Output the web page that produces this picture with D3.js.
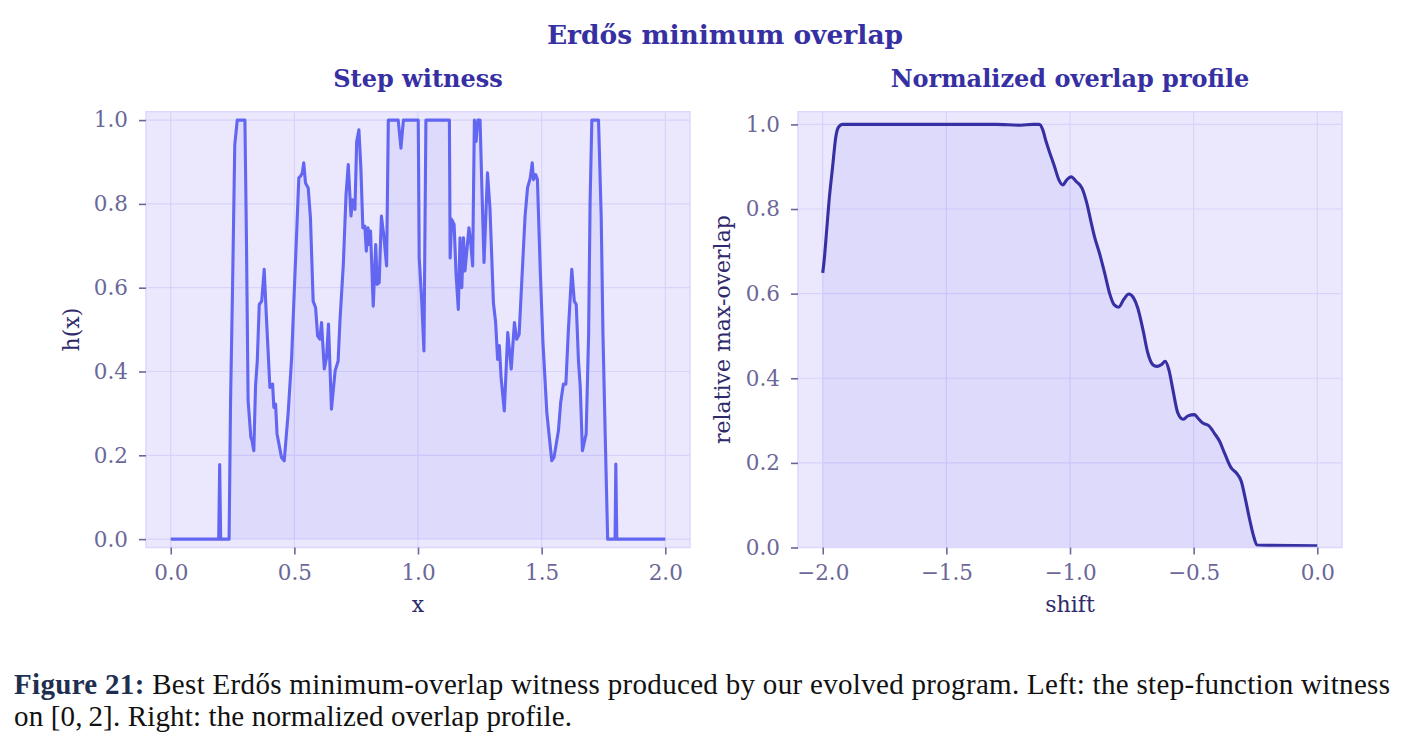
<!DOCTYPE html>
<html>
<head>
<meta charset="utf-8">
<script src="https://cdn.jsdelivr.net/npm/d3@7"></script>
<style>
  body { margin: 0; background: #fff; }
  svg { display: block; }
</style>
</head>
<body>
<div id="chart"></div>
<script>
// step witness h(x) on [0, 2]
const stepX = [0, 0.185, 0.194, 0.198, 0.202, 0.236, 0.242, 0.25, 0.259, 0.269,
  0.3, 0.306, 0.313, 0.324, 0.329, 0.336, 0.343, 0.35, 0.358, 0.368,
  0.378, 0.387, 0.401, 0.412, 0.417, 0.424, 0.43, 0.448, 0.459, 0.475,
  0.489, 0.498, 0.509, 0.518, 0.525, 0.532, 0.538, 0.545, 0.556, 0.565,
  0.576, 0.586, 0.594, 0.603, 0.61, 0.621, 0.63, 0.638, 0.65, 0.665,
  0.677, 0.684, 0.698, 0.709, 0.718, 0.729, 0.735, 0.745, 0.752, 0.761,
  0.769, 0.777, 0.785, 0.791, 0.798, 0.803, 0.808, 0.819, 0.829, 0.835,
  0.843, 0.852, 0.862, 0.873, 0.88, 0.92, 0.931, 0.941, 1.001, 1.005,
  1.015, 1.024, 1.032, 1.127, 1.13, 1.136, 1.146, 1.154, 1.163, 1.17,
  1.177, 1.184, 1.19, 1.206, 1.214, 1.221, 1.228, 1.235, 1.242, 1.251,
  1.258, 1.267, 1.281, 1.291, 1.305, 1.314, 1.322, 1.329, 1.336, 1.349,
  1.363, 1.377, 1.39, 1.399, 1.409, 1.415, 1.433, 1.443, 1.454, 1.462,
  1.467, 1.476, 1.483, 1.494, 1.505, 1.521, 1.541, 1.55, 1.568, 1.577,
  1.588, 1.598, 1.608, 1.622, 1.632, 1.64, 1.649, 1.656, 1.665, 1.68,
  1.69, 1.696, 1.703, 1.73, 1.741, 1.748, 1.757, 1.767, 1.794, 1.797,
  1.8, 1.804, 2.0];
const stepH = [0, 0, 0, 0.178, 0, 0, 0.33, 0.6, 0.941, 1,
  1, 0.727, 0.33, 0.243, 0.235, 0.211, 0.366, 0.425, 0.56, 0.568,
  0.644, 0.529, 0.362, 0.37, 0.314, 0.322, 0.251, 0.195, 0.187, 0.302,
  0.433, 0.568, 0.727, 0.862, 0.866, 0.874, 0.898, 0.85, 0.838, 0.767,
  0.568, 0.552, 0.485, 0.477, 0.517, 0.406, 0.433, 0.513, 0.31, 0.402,
  0.425, 0.517, 0.656, 0.822, 0.894, 0.771, 0.81, 0.787, 0.949, 0.977,
  0.886, 0.743, 0.747, 0.687, 0.743, 0.703, 0.735, 0.556, 0.703, 0.608,
  0.612, 0.771, 0.723, 0.652, 1, 1, 0.933, 1, 1, 0.671,
  0.568, 0.449, 1, 1, 0.671, 0.763, 0.751, 0.632, 0.548, 0.719,
  0.6, 0.719, 0.64, 0.743, 0.703, 0.652, 1, 0.949, 1, 1,
  0.846, 0.66, 0.874, 0.79, 0.564, 0.517, 0.429, 0.462, 0.386, 0.306,
  0.493, 0.406, 0.517, 0.477, 0.489, 0.56, 0.771, 0.838, 0.862, 0.898,
  0.858, 0.87, 0.858, 0.648, 0.473, 0.302, 0.187, 0.195, 0.259, 0.326,
  0.37, 0.37, 0.497, 0.644, 0.568, 0.56, 0.425, 0.366, 0.211, 0.251,
  0.489, 0.806, 1, 1, 0.767, 0.489, 0.251, 0, 0, 0,
  0.179, 0, 0];

// normalized overlap profile
const shiftX = [-2.0, -1.994, -1.985, -1.974, -1.96, -1.947, -1.936, -1.92, -1.6, -1.3,
  -1.2, -1.15, -1.124, -1.11, -1.097, -1.083, -1.063, -1.045, -1.029, -1.013,
  -0.995, -0.975, -0.951, -0.932, -0.914, -0.901, -0.881, -0.86, -0.84, -0.822,
  -0.803, -0.783, -0.762, -0.743, -0.726, -0.705, -0.685, -0.665, -0.649, -0.631,
  -0.615, -0.6, -0.584, -0.564, -0.543, -0.523, -0.496, -0.483, -0.463, -0.439,
  -0.416, -0.395, -0.375, -0.348, -0.327, -0.307, -0.293, -0.273, -0.257, -0.244,
  -0.2, 0.0];
const overlap = [0.649, 0.68, 0.743, 0.822, 0.9, 0.971, 0.994, 1.0, 1.0, 1.0,
  0.998, 1.0, 1.0, 0.987, 0.96, 0.935, 0.901, 0.869, 0.857, 0.869,
  0.876, 0.865, 0.849, 0.814, 0.767, 0.735, 0.696, 0.649, 0.601, 0.574,
  0.568, 0.586, 0.599, 0.59, 0.566, 0.515, 0.459, 0.432, 0.428, 0.432,
  0.44, 0.42, 0.373, 0.318, 0.303, 0.311, 0.314, 0.306, 0.294, 0.288,
  0.27, 0.251, 0.223, 0.188, 0.176, 0.156, 0.121, 0.065, 0.026, 0.006,
  0.005, 0.004];

const leftXTicks = [0, 0.5, 1, 1.5, 2];
const rightXTicks = [-2, -1.5, -1, -0.5, 0];
const yTicks = [0, 0.2, 0.4, 0.6, 0.8, 1.0];

const width = 1406, height = 734;
const bg = '#ebe8fd', gridColor = '#d7d3fb', tickColor = '#6b6899', labelColor = '#2f2a6b';
const serif = '"DejaVu Serif", serif';

const svg = d3.select('#chart').append('svg')
  .attr('width', width)
  .attr('height', height)
  .style('background', '#fff');

// main title
svg.append('text')
  .attr('x', 725).attr('y', 44)
  .attr('text-anchor', 'middle')
  .style('font-family', serif).style('font-weight', 'bold').style('font-size', '26.5px')
  .style('fill', '#3730a3')
  .text('Erdős minimum overlap');

function panel(opts) {
  const { left, right, top, bottom } = opts;
  const x = d3.scaleLinear().domain(opts.xDomain).range([left, right]);
  const y = d3.scaleLinear().domain(opts.yDomain).range([bottom, top]);
  const g = svg.append('g');

  const clipId = opts.id + '-clip';
  g.append('clipPath').attr('id', clipId)
    .append('rect').attr('x', left).attr('y', top).attr('width', right - left).attr('height', bottom - top);

  g.append('rect')
    .attr('x', left).attr('y', top)
    .attr('width', right - left).attr('height', bottom - top)
    .attr('fill', bg);

  // grid
  g.append('g').selectAll('line').data(opts.xTicks).join('line')
    .attr('x1', d => x(d)).attr('x2', d => x(d))
    .attr('y1', top).attr('y2', bottom)
    .attr('stroke', gridColor).attr('stroke-width', 1.2);
  g.append('g').selectAll('line').data(yTicks).join('line')
    .attr('x1', left).attr('x2', right)
    .attr('y1', d => y(d)).attr('y2', d => y(d))
    .attr('stroke', gridColor).attr('stroke-width', 1.2);

  const pts = opts.xs.map((v, i) => [v, opts.ys[i]]);

  const area = d3.area()
    .x(d => x(d[0])).y0(y(0)).y1(d => y(d[1]))
    .curve(opts.curve);
  g.append('path').datum(pts)
    .attr('d', area)
    .attr('fill', '#6366f1').attr('fill-opacity', 0.1)
    .attr('clip-path', `url(#${clipId})`);

  const line = d3.line().x(d => x(d[0])).y(d => y(d[1])).curve(opts.curve);
  g.append('path').datum(pts)
    .attr('d', line)
    .attr('fill', 'none')
    .attr('stroke', opts.lineColor).attr('stroke-width', 3.1)
    .attr('stroke-linejoin', 'round')
    .attr('clip-path', `url(#${clipId})`);

  // spines
  g.append('rect')
    .attr('x', left).attr('y', top)
    .attr('width', right - left).attr('height', bottom - top)
    .attr('fill', 'none').attr('stroke', '#dcd8fc').attr('stroke-width', 1.5);

  const fmt = d3.format('.1f');
  const xAxis = g.append('g').attr('transform', `translate(0,${bottom})`)
    .call(d3.axisBottom(x).tickValues(opts.xTicks).tickFormat(fmt).tickSize(7).tickPadding(10));
  const yAxis = g.append('g').attr('transform', `translate(${left},0)`)
    .call(d3.axisLeft(y).tickValues(yTicks).tickFormat(fmt).tickSize(7).tickPadding(11));
  [xAxis, yAxis].forEach(a => {
    a.select('.domain').remove();
    a.selectAll('.tick line').attr('stroke', tickColor).attr('stroke-width', 1.6);
    a.selectAll('.tick text')
      .style('font-family', serif).style('font-size', '21.5px').style('fill', tickColor);
  });

  // subplot title
  svg.append('text')
    .attr('x', (left + right) / 2).attr('y', 87)
    .attr('text-anchor', 'middle')
    .style('font-family', serif).style('font-weight', 'bold').style('font-size', '24px')
    .style('fill', '#3730a3')
    .text(opts.title);

  svg.append('text')
    .attr('x', (left + right) / 2).attr('y', 612)
    .attr('text-anchor', 'middle')
    .style('font-family', serif).style('font-size', '22px').style('fill', labelColor)
    .text(opts.xLabel);

  svg.append('text')
    .attr('transform', `translate(${opts.yLabelX},${(top + bottom) / 2}) rotate(-90)`)
    .attr('text-anchor', 'middle')
    .style('font-family', serif).style('font-size', '22px').style('fill', labelColor)
    .text(opts.yLabel);
}

panel({
  id: 'step', left: 146, right: 690, top: 111.7, bottom: 547.5,
  xDomain: [-0.1, 2.1], yDomain: [-0.02, 1.02],
  xTicks: leftXTicks, xs: stepX, ys: stepH,
  curve: d3.curveLinear, lineColor: '#6366f1',
  title: 'Step witness', xLabel: 'x', yLabel: 'h(x)', yLabelX: 79
});

panel({
  id: 'overlap', left: 798, right: 1342, top: 111.7, bottom: 547.5,
  xDomain: [-2.1, 0.1], yDomain: [0, 1.03],
  xTicks: rightXTicks, xs: shiftX, ys: overlap,
  curve: d3.curveMonotoneX, lineColor: '#3730a3',
  title: 'Normalized overlap profile', xLabel: 'shift', yLabel: 'relative max-overlap', yLabelX: 730
});

// caption
const cap = svg.append('g')
  .style('font-family', '"Liberation Serif", serif').style('font-size', '29px').style('fill', '#111');
const line1 = cap.append('text').attr('x', 14).attr('y', 694)
  .attr('textLength', 1376).attr('lengthAdjust', 'spacing');
line1.append('tspan').style('font-weight', 'bold').style('fill', '#1e2f4f').text('Figure 21:');
line1.append('tspan').text(' Best Erdős minimum-overlap witness produced by our evolved program. Left: the step-function witness');
cap.append('text').attr('x', 14).attr('y', 726)
  .attr('textLength', 558).attr('lengthAdjust', 'spacing')
  .text('on [0,\u20092]. Right: the normalized overlap profile.');
</script>
</body>
</html>
